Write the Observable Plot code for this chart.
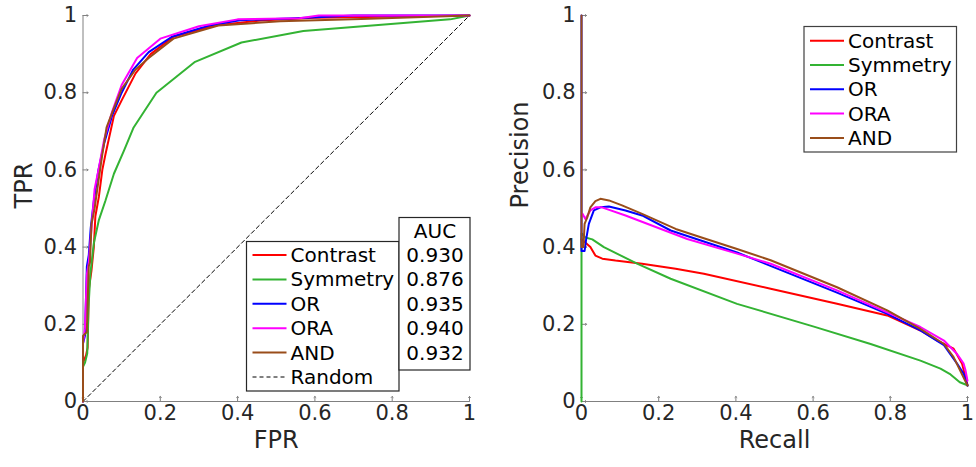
<!DOCTYPE html>
<html><head><meta charset="utf-8">
<script src="https://cdn.jsdelivr.net/npm/d3@7"></script>
<script src="https://cdn.jsdelivr.net/npm/@observablehq/plot@0.6"></script>
<style>
body{margin:0;background:#fff;}
#wrap{display:flex;width:976px;height:467px;overflow:hidden;}
#wrap svg{overflow:visible;}
</style></head><body><div id="wrap"></div>
<script>
// ---------- data ----------
const seriesNames = ["Contrast", "Symmetry", "OR", "ORA", "AND"];
const seriesColors = ["#ff0000", "#33b333", "#0000ff", "#ff00ff", "#994d1a"];
const aucValues = ["0.930", "0.876", "0.935", "0.940", "0.932"];
const tickValues = [0, 0.2, 0.4, 0.6, 0.8, 1];
const randomLine = [[0, 0], [1, 1]];

// ROC curves: [FPR, TPR]
const rocContrast = [[0,0],[0,0.1],[0.008,0.12],[0.012,0.14],[0.015,0.29],[0.022,0.34],[0.028,0.40],[0.032,0.48],[0.041,0.53],[0.05,0.6],[0.058,0.64],[0.08,0.74],[0.10,0.78],[0.136,0.85],[0.175,0.90],[0.234,0.945],[0.34,0.974],[0.46,0.987],[0.6,0.994],[1,1]];
const rocSymmetry = [[0,0],[0,0.09],[0.005,0.10],[0.011,0.125],[0.014,0.24],[0.019,0.33],[0.028,0.41],[0.041,0.47],[0.058,0.52],[0.08,0.59],[0.106,0.65],[0.131,0.71],[0.19,0.80],[0.29,0.88],[0.41,0.93],[0.57,0.96],[0.95,0.99],[1,1]];
const rocOR = [[0,0],[0,0.15],[0.005,0.17],[0.01,0.35],[0.015,0.38],[0.02,0.45],[0.028,0.52],[0.04,0.6],[0.055,0.67],[0.075,0.74],[0.1,0.80],[0.13,0.86],[0.17,0.905],[0.23,0.945],[0.33,0.975],[0.41,0.988],[0.55,0.993],[0.7,1],[1,1]];
const rocORA = [[0,0],[0,0.15],[0.005,0.19],[0.01,0.33],[0.015,0.36],[0.022,0.45],[0.03,0.55],[0.04,0.6],[0.055,0.68],[0.075,0.75],[0.1,0.82],[0.14,0.89],[0.2,0.94],[0.3,0.972],[0.4,0.99],[0.56,0.993],[0.61,1],[1,1]];
const rocAND = [[0,0],[0,0.17],[0.01,0.18],[0.013,0.29],[0.015,0.35],[0.018,0.36],[0.022,0.46],[0.03,0.5],[0.037,0.55],[0.05,0.64],[0.061,0.71],[0.08,0.76],[0.1,0.81],[0.136,0.86],[0.17,0.89],[0.234,0.94],[0.35,0.974],[0.51,0.985],[0.72,0.991],[1,1]];

// PR curves: [Recall, Precision]
const prContrast = [[0,0.42],[0.006,0.415],[0.012,0.41],[0.023,0.40],[0.036,0.378],[0.054,0.37],[0.088,0.365],[0.157,0.357],[0.244,0.344],[0.317,0.331],[0.49,0.292],[0.662,0.253],[0.792,0.223],[0.878,0.184],[0.921,0.158],[0.964,0.137],[0.986,0.098],[1,0.043]];
const prSymmetry = [[0,0],[0,0.435],[0.002,0.434],[0.01,0.425],[0.028,0.42],[0.058,0.40],[0.144,0.357],[0.231,0.318],[0.403,0.253],[0.602,0.194],[0.749,0.149],[0.878,0.106],[0.93,0.085],[0.956,0.07],[0.98,0.05],[1,0.042]];
const prOR = [[0,1],[0,0.39],[0.008,0.39],[0.012,0.42],[0.019,0.46],[0.032,0.495],[0.049,0.503],[0.071,0.505],[0.114,0.495],[0.157,0.482],[0.231,0.443],[0.403,0.386],[0.533,0.334],[0.662,0.282],[0.792,0.227],[0.878,0.184],[0.939,0.146],[0.973,0.098],[0.99,0.072],[1,0.041]];
const prORA = [[0,0.48],[0.003,0.486],[0.01,0.473],[0.023,0.495],[0.036,0.503],[0.053,0.503],[0.114,0.482],[0.274,0.421],[0.403,0.383],[0.49,0.357],[0.662,0.288],[0.792,0.231],[0.878,0.193],[0.939,0.158],[0.973,0.123],[0.99,0.098],[0.995,0.08],[1,0.054]];
const prAND = [[0,1],[0,0.40],[0.005,0.40],[0.008,0.46],[0.015,0.477],[0.023,0.503],[0.036,0.519],[0.049,0.525],[0.071,0.521],[0.105,0.508],[0.157,0.486],[0.244,0.447],[0.317,0.423],[0.403,0.395],[0.49,0.366],[0.662,0.296],[0.792,0.236],[0.878,0.188],[0.939,0.149],[0.964,0.115],[1,0.041]];

const rocSeries = [rocContrast, rocSymmetry, rocOR, rocORA, rocAND];
const prSeries = [prContrast, prSymmetry, prOR, prORA, prAND];

// ---------- drawing ----------
const FONT = "DejaVu Sans";
const AXIS_GRAY = "#808080";
const TEXT = "#262626";

function panel({series, xLabel, yLabel, marginLeft, marginRight, yLabelDx, extra = []}) {
  return Plot.plot({
    width: 488, height: 467,
    marginTop: 15, marginBottom: 66, marginLeft, marginRight,
    style: {fontFamily: FONT, fontSize: "20px", color: TEXT, background: "white", overflow: "visible"},
    x: {domain: [0, 1]},
    y: {domain: [0, 1]},
    marks: [
      Plot.ruleX([0], {stroke: AXIS_GRAY, strokeWidth: 1}),
      Plot.ruleY([0], {stroke: AXIS_GRAY, strokeWidth: 1}),
      Plot.vector(tickValues, {x: d => d, y: 0, length: 5, rotate: 0, anchor: "start", stroke: AXIS_GRAY, strokeWidth: 1}),
      Plot.vector(tickValues, {x: 0, y: d => d, length: 5, rotate: 90, anchor: "start", stroke: AXIS_GRAY, strokeWidth: 1}),
      ...extra,
      ...series.map((s, i) => Plot.line(s, {x: d => d[0], y: d => d[1], stroke: seriesColors[i], strokeWidth: 2})),
      Plot.axisX({ticks: tickValues, tickSize: 0, tickPadding: 4, tickFormat: d => String(d), label: null, fontSize: 21}),
      Plot.axisY({ticks: tickValues, tickSize: 0, tickPadding: 6, tickFormat: d => String(d), label: null, fontSize: 21}),
      Plot.text([xLabel], {text: d => d, frameAnchor: "bottom", dy: 29, lineAnchor: "top", fontSize: 24}),
      Plot.text([yLabel], {text: d => d, frameAnchor: "left", dx: yLabelDx, rotate: -90, lineAnchor: "top", fontSize: 24})
    ]
  });
}

const left = panel({
  series: rocSeries, xLabel: "FPR", yLabel: "TPR", marginLeft: 82.5, marginRight: 19, yLabelDx: -68,
  extra: [Plot.line(randomLine, {x: d => d[0], y: d => d[1], stroke: "black", strokeWidth: 1, strokeDasharray: "4,3"})]
});
const right = panel({
  series: prSeries, xLabel: "Recall", yLabel: "Precision", marginLeft: 93, marginRight: 9, yLabelDx: -71
});

document.getElementById("wrap").append(left, right);

function legend(svg, {x0, y0, w, h, rowY0, rowStep, lineX0, lineX1, textX, withRandom, boxStroke}) {
  const g = d3.select(svg).append("g").attr("font-family", FONT).attr("font-size", 20)
    .attr("fill", "black").attr("text-anchor", "start");
  g.append("rect").attr("x", x0).attr("y", y0).attr("width", w).attr("height", h)
    .attr("fill", "white").attr("stroke", boxStroke).attr("stroke-width", 1.2);
  const entries = seriesNames.map((n, i) => ({name: n, color: seriesColors[i], dash: null, width: 2}));
  if (withRandom) entries.push({name: "Random", color: "black", dash: "4,3", width: 1});
  entries.forEach((e, i) => {
    const y = rowY0 + i * rowStep;
    g.append("line").attr("x1", lineX0).attr("x2", lineX1).attr("y1", y).attr("y2", y)
      .attr("stroke", e.color).attr("stroke-width", e.width).attr("stroke-dasharray", e.dash);
    g.append("text").attr("x", textX).attr("y", y).attr("dy", "0.35em").attr("text-anchor", "start").text(e.name);
  });
  return g;
}

legend(left, {x0: 246.5, y0: 241.5, w: 152.5, h: 149.5, rowY0: 255, rowStep: 24.4, lineX0: 252.5, lineX1: 286.5, textX: 290.5, withRandom: true, boxStroke: "#262626"});
// AUC table
{
  const g = d3.select(left).append("g").attr("font-family", FONT).attr("font-size", 20).attr("fill", "black");
  g.append("rect").attr("x", 399).attr("y", 217.5).attr("width", 71).attr("height", 152.5)
    .attr("fill", "white").attr("stroke", "#262626").attr("stroke-width", 1.2);
  g.append("text").attr("x", 435).attr("y", 230.5).attr("dy", "0.35em").attr("text-anchor", "middle").text("AUC");
  aucValues.forEach((v, i) => {
    g.append("text").attr("x", 435).attr("y", 255 + i * 24.4).attr("dy", "0.35em").attr("text-anchor", "middle").text(v);
  });
}
legend(right, {x0: 316, y0: 26.5, w: 152.5, h: 125.5, rowY0: 40.7, rowStep: 24.3, lineX0: 322, lineX1: 356, textX: 360, withRandom: false, boxStroke: "#404040"});
</script>
</body></html>
